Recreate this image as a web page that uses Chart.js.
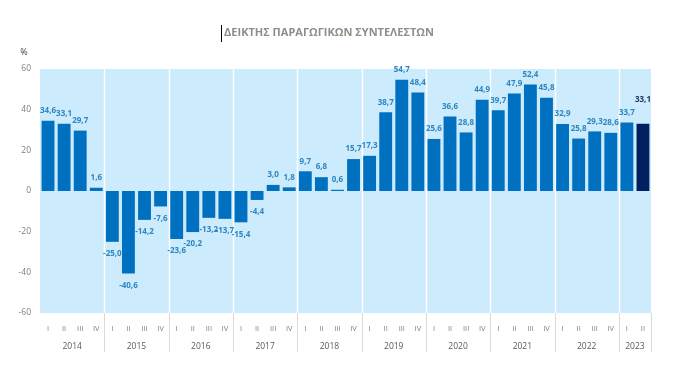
<!DOCTYPE html>
<html>
<head>
<meta charset="utf-8">
<script src="https://cdn.jsdelivr.net/npm/chart.js@4.4.1/dist/chart.umd.min.js"></script>
<style>
    html, body { margin: 0; padding: 0; background: #ffffff; }
    #wrap { width: 685px; height: 375px; position: relative; }
</style>
</head>
<body>
<div id="wrap"><canvas id="factorChart" width="685" height="375"></canvas></div>
<script>
const years = ['2014', '2015', '2016', '2017', '2018', '2019', '2020', '2021', '2022', '2023'];
const quarters = ['I', 'II', 'III', 'IV'];
const values = [
    34.6, 33.1, 29.7, 1.6,
    -25.0, -40.6, -14.2, -7.6,
    -23.6, -20.2, -13.2, -13.7,
    -15.4, -4.4, 3.0, 1.8,
    9.7, 6.8, 0.6, 15.7,
    17.3, 38.7, 54.7, 48.4,
    25.6, 36.6, 28.8, 44.9,
    39.7, 47.9, 52.4, 45.8,
    32.9, 25.8, 29.3, 28.6,
    33.7, 33.1
];
const yTicks = [-60, -40, -20, 0, 20, 40, 60];

const chartTitle = 'ΔΕΙΚΤΗΣ ΠΑΡΑΓΩΓΙΚΩΝ ΣΥΝΤΕΛΕΣΤΩΝ';
const FONT = '"Open Sans", Lato, sans-serif';

// build quarter labels
const labels = [];
for (let i = 0; i < values.length; i++) {
    labels.push(quarters[i % 4]);
}
const lastIdx = values.length - 1;

const fmt = v => v.toFixed(1).replace('.', ',');

function yearBounds(x, right) {
    const b = [];
    for (let i = 4; i < values.length; i += 4) {
        b.push(Math.round((x.getPixelForValue(i - 1) + x.getPixelForValue(i)) / 2) + 0.5);
    }
    if (right !== undefined) b.push(Math.round(right) + 0.5);
    return b;
}

// plot background, year separators, year labels, title
const decorPlugin = {
    id: 'decor',
    beforeDatasetsDraw(chart) {
        const { ctx, chartArea: a, scales: { x } } = chart;
        ctx.save();
        ctx.fillStyle = '#CCEBFC';
        ctx.fillRect(a.left, a.top, a.right - a.left, a.bottom - a.top);
        ctx.strokeStyle = '#ffffff';
        ctx.lineWidth = 1.5;
        yearBounds(x).forEach(px => {
            ctx.beginPath();
            ctx.moveTo(px, a.top);
            ctx.lineTo(px, a.bottom);
            ctx.stroke();
        });
        ctx.restore();
    },
    afterDraw(chart) {
        const { ctx, chartArea: a, scales: { x } } = chart;
        ctx.save();
        // separators in the label band
        ctx.strokeStyle = '#D9D9D9';
        ctx.lineWidth = 1;
        yearBounds(x, a.right).forEach(px => {
            ctx.beginPath();
            ctx.moveTo(px, a.bottom);
            ctx.lineTo(px, a.bottom + 39);
            ctx.stroke();
        });
        // year labels
        ctx.fillStyle = '#595959';
        ctx.font = '8.5px ' + FONT;
        ctx.textAlign = 'center';
        ctx.textBaseline = 'middle';
        years.forEach((yr, k) => {
            const first = k * 4;
            const last = Math.min(first + 3, lastIdx);
            const cx = (x.getPixelForValue(first) + x.getPixelForValue(last)) / 2;
            ctx.fillText(yr, cx, a.bottom + 34);
        });
        // title
        ctx.fillStyle = '#8E8E86';
        ctx.font = 'bold 11px ' + FONT;
        ctx.fillText(chartTitle, 329, 33);
        const tw = ctx.measureText(chartTitle).width;
        ctx.strokeStyle = '#000000';
        ctx.beginPath();
        ctx.moveTo(Math.round(329 - tw / 2) - 2.5, 25);
        ctx.lineTo(Math.round(329 - tw / 2) - 2.5, 42);
        ctx.stroke();
        // unit
        ctx.fillStyle = '#404040';
        ctx.font = '9px ' + FONT;
        ctx.fillText('%', 24, 52);
        ctx.restore();
    }
};

// value labels above / below each bar
const valueLabels = {
    id: 'valueLabels',
    afterDatasetsDraw(chart) {
        const { ctx } = chart;
        const meta = chart.getDatasetMeta(0);
        ctx.save();
        ctx.font = 'bold 8px ' + FONT;
        ctx.textAlign = 'center';
        ctx.textBaseline = 'middle';
        meta.data.forEach((bar, i) => {
            const v = values[i];
            ctx.fillStyle = i === lastIdx ? '#1F3864' : '#2E86C1';
            let y = v >= 0 ? bar.y - 10 : bar.y + 12;
            if (i === lastIdx) y -= 14;
            ctx.fillText(fmt(v), bar.x, y);
        });
        ctx.restore();
    }
};

new Chart(document.getElementById('factorChart'), {
    type: 'bar',
    data: {
        labels: labels,
        datasets: [{
            data: values,
            backgroundColor: values.map((v, i) => i === lastIdx ? '#002060' : '#0070C0'),
            categoryPercentage: 1,
            barPercentage: 0.8,
            borderWidth: 0
        }]
    },
    options: {
        responsive: false,
        animation: false,
        devicePixelRatio: 1,
        layout: { padding: { top: 69, right: 34, left: 0, bottom: 0 } },
        plugins: {
            legend: { display: false },
            tooltip: { enabled: false }
        },
        scales: {
            x: {
                grid: { display: false },
                border: { display: false },
                ticks: {
                    color: '#7F7F7F',
                    font: { size: 7.5, family: FONT },
                    maxRotation: 0,
                    autoSkip: false,
                    padding: 3
                },
                afterFit(scale) { scale.height = 62; }
            },
            y: {
                min: -60,
                max: 60,
                grid: { display: false },
                border: { display: false },
                afterBuildTicks(scale) { scale.ticks = yTicks.map(v => ({ value: v })); },
                ticks: {
                    color: '#7F7F7F',
                    font: { size: 8.5, family: FONT },
                    padding: 1
                },
                afterFit(scale) { scale.width = 40; }
            }
        }
    },
    plugins: [decorPlugin, valueLabels]
});
</script>
</body>
</html>
